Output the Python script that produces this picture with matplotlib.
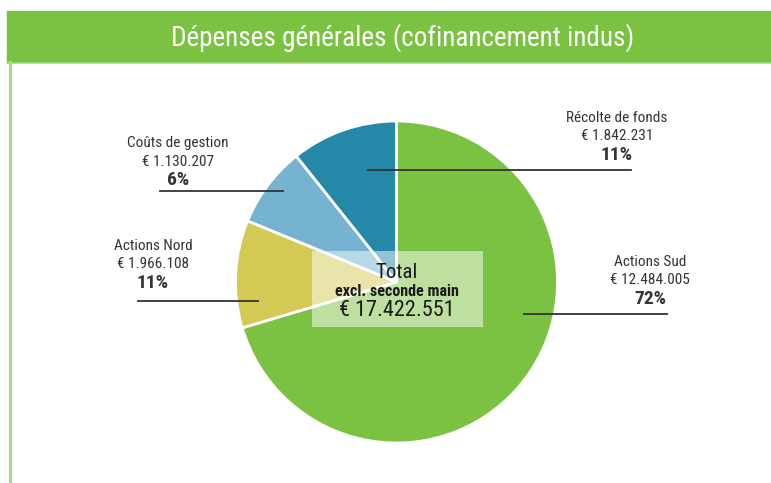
import matplotlib.pyplot as plt
from matplotlib.patches import Rectangle

# Data
labels = ['Actions Sud', 'Actions Nord', 'Coûts de gestion', 'Récolte de fonds']
amounts = [12484005, 1966108, 1130207, 1842231]
amount_text = ['€ 12.484.005', '€ 1.966.108', '€ 1.130.207', '€ 1.842.231']
pct_text = ['72%', '11%', '6%', '11%']
# wedge sizes as drawn in the original (they don't follow the amounts exactly)
drawn_share = [70.4, 10.8, 8.1, 10.7]
colors = ['#7cc242', '#d2ca55', '#76b3d0', '#2588a8']
total_text = '€ 17.422.551'

W, H = 771, 483
fig = plt.figure(figsize=(W / 100, H / 100), dpi=100)
ax = fig.add_axes([0, 0, 1, 1])

def Y(py):
    # pixel row -> data y
    return H - py

narrow = ['Roboto Condensed', 'Archivo Narrow', 'DejaVu Sans']

# Pie
ax.pie(drawn_share, colors=colors, startangle=90, counterclock=False,
       center=(396.5, Y(282)), radius=161, frame=True,
       wedgeprops=dict(edgecolor='white', linewidth=2))
ax.set_xlim(0, W)
ax.set_ylim(0, H)
ax.set_aspect('equal')
ax.axis('off')

# Header band and left border
ax.add_patch(Rectangle((7, Y(62)), W - 7, 51, color='#7cc242', zorder=1))
ax.plot([7, W], [Y(62.5), Y(62.5)], color='#a6dc80', lw=1.2, zorder=1)
ax.plot([9.5, 9.5], [0, Y(62)], color='#a6dc80', lw=2.2, zorder=1)
ax.text(403, Y(38), 'Dépenses générales (cofinancement indus)', color='white',
        fontsize=19.5, family=narrow, ha='center', va='center', zorder=2)

# Label positions: (x, y of name line, line y, line x0, line x1)
label_pos = [
    (650, 262, 314, 524, 667),
    (153, 246, 301, 138, 258),
    (178, 143, 191, 160, 283),
    (617, 118, 170, 368, 631),
]
for i, (x, y, ly, x0, x1) in enumerate(label_pos):
    ax.text(x, Y(y), labels[i], fontsize=11, family=narrow, color='#333333',
            ha='center', va='center', zorder=4)
    ax.text(x, Y(y + 18.5), amount_text[i], fontsize=11, family=narrow, color='#333333',
            ha='center', va='center', zorder=4)
    ax.text(x, Y(y + 37), pct_text[i], fontsize=14, family=narrow, weight='bold',
            color='#333333', ha='center', va='center', zorder=4)
    ax.plot([x0, x1], [Y(ly), Y(ly)], color='#333333', lw=1.3, zorder=4)

# Center total box
ax.add_patch(Rectangle((312, Y(327)), 171, 76, facecolor='white', alpha=0.5,
                       edgecolor='none', zorder=3))
ax.text(397, Y(273), 'Total', fontsize=15, family=narrow, color='#1a1a1a',
        ha='center', va='center', zorder=4)
ax.text(397, Y(292), 'excl. seconde main', fontsize=11.5, family=narrow, weight='bold',
        color='#1a1a1a', ha='center', va='center', zorder=4)
ax.text(397, Y(311), total_text, fontsize=16, family=narrow, color='#1a1a1a',
        ha='center', va='center', zorder=4)

fig.savefig('out.png', dpi=100)
